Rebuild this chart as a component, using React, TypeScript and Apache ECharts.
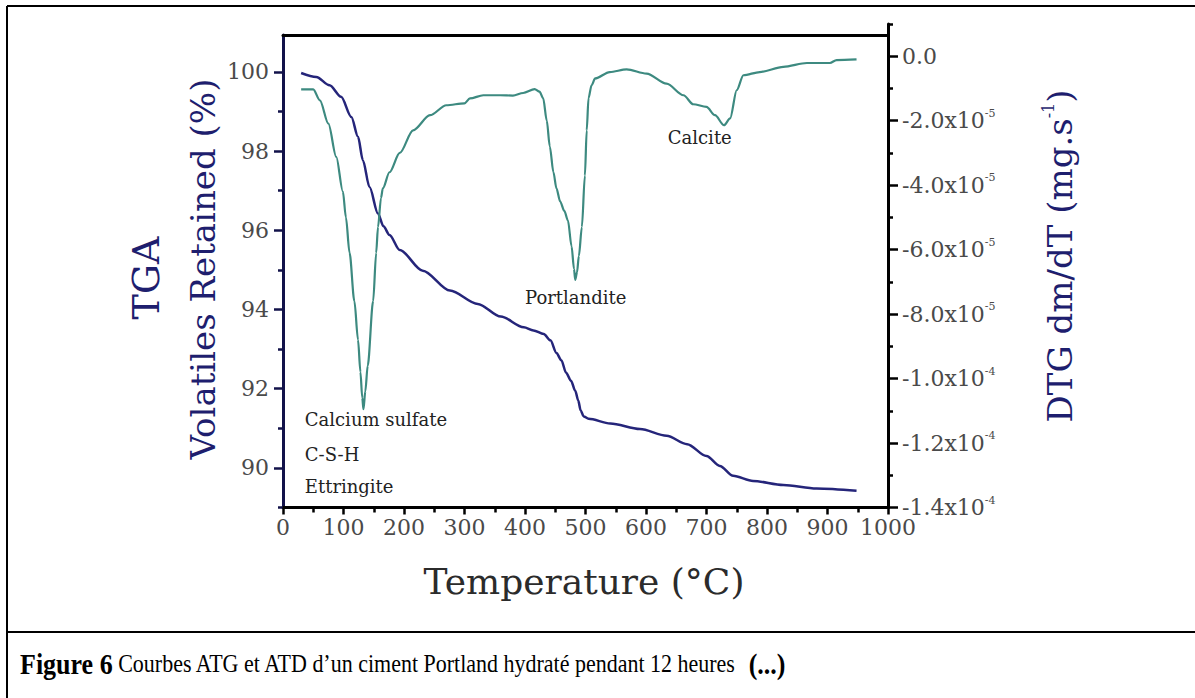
import React, { useEffect, useRef } from "react";
import * as echarts from "echarts";

// Temperature (°C) and TGA (% volatiles retained)
const tgaTemp = [30, 55, 77, 96, 113, 124, 132, 143, 157, 166, 176, 193, 231, 276, 322, 360, 398, 414, 431, 442, 452, 460, 468, 476, 483, 488, 492, 497, 505, 541, 590, 634, 668, 700, 722, 744, 777, 827, 882, 948];
const tgaValue = [99.97, 99.87, 99.66, 99.37, 98.86, 98.36, 97.77, 97.09, 96.42, 96.1, 95.88, 95.5, 94.98, 94.48, 94.14, 93.82, 93.55, 93.47, 93.38, 93.22, 92.9, 92.72, 92.4, 92.2, 91.95, 91.7, 91.45, 91.3, 91.24, 91.12, 90.98, 90.81, 90.6, 90.3, 90.05, 89.8, 89.67, 89.57, 89.48, 89.42];

// Temperature (°C) and DTG (in units of 1e-5 mg/s)
const dtgTemp = [30, 50, 61, 75, 88, 99, 104, 110, 118, 124, 128, 131, 133, 136, 140, 149, 154, 157, 162, 165, 176, 193, 215, 243, 270, 300, 309, 331, 359, 380, 397, 416, 424, 430, 436, 441, 447, 452, 458, 465, 471, 477, 481, 483, 486, 489, 494, 499, 502, 505, 510, 516, 540, 568, 601, 634, 662, 678, 700, 714, 729, 739, 750, 761, 788, 827, 866, 904, 915, 948];
const dtgValue = [-1.03, -1.03, -1.37, -2.09, -3.12, -4.2, -5.0, -6.1, -7.6, -8.8, -9.8, -10.6, -10.95, -10.4, -9.6, -7.6, -6.1, -5.3, -4.4, -4.1, -3.6, -3.0, -2.3, -1.83, -1.52, -1.46, -1.31, -1.21, -1.21, -1.22, -1.14, -1.02, -1.1, -1.3, -2.0, -2.8, -3.6, -4.1, -4.5, -4.8, -5.1, -5.9, -6.6, -6.94, -6.7, -6.2, -5.3, -3.7, -2.3, -1.3, -0.9, -0.69, -0.49, -0.41, -0.54, -0.85, -1.21, -1.49, -1.57, -1.83, -2.14, -1.93, -1.05, -0.59, -0.49, -0.33, -0.21, -0.21, -0.12, -0.1];
const DTG_UNIT = 1e-5;

const xTicks = [0, 100, 200, 300, 400, 500, 600, 700, 800, 900, 1000];
const tgaTicks = [90, 92, 94, 96, 98, 100];
const tgaMinorTicks = [89, 91, 93, 95, 97, 99];
const dtgTicks = [0, -2e-5, -4e-5, -6e-5, -8e-5, -1e-4, -1.2e-4, -1.4e-4];
const dtgMinorTicks = [1e-5, -1e-5, -3e-5, -5e-5, -7e-5, -9e-5, -1.1e-4, -1.3e-4];

// annotation labels anchored at (temperature, DTG in 1e-5 units)
const annotationText = ["Calcium sulfate", "C-S-H", "Ettringite", "Portlandite", "Calcite"];
const annotationTemp = [36, 36, 36, 400, 636];
const annotationDtg = [-11.27, -12.36, -13.35, -7.49, -2.51];

const SERIF = "'DejaVu Serif', serif";
const TIMES = "'Liberation Serif', 'Times New Roman', serif";
const NAVY = "#1e1e6e";
const TEAL = "#3d8a80";
const LABEL = "#4a4a4a";

function fmtDtg(v: number): string {
  if (Math.abs(v) < 1e-12) return "{n|0.0}";
  const exp = Math.abs(v) >= 1e-4 - 1e-12 ? -4 : -5;
  const m = v / Math.pow(10, exp);
  return `{n|${m.toFixed(1)}x10}{s|${exp}}`;
}

export default function App() {
  const ref = useRef<HTMLDivElement>(null);
  useEffect(() => {
    if (!ref.current) return;
    const chart = echarts.init(ref.current, undefined, { renderer: "svg" });
    const tgaData = tgaTemp.map((t, i) => [t, tgaValue[i]]);
    const dtgData = dtgTemp.map((t, i) => [t, dtgValue[i] * DTG_UNIT]);
    chart.setOption({
      animation: false,
      backgroundColor: "#ffffff",
      grid: [
        { left: 283, top: 35, width: 605, height: 472.5, containLabel: false },
        { left: 283, top: 24, width: 605, height: 483.5, containLabel: false },
      ],
      xAxis: [
        {
          type: "value", gridIndex: 0, position: "bottom", min: 0, max: 1000, interval: 100,
          axisLine: { onZero: false, lineStyle: { color: "#000", width: 3 } },
          axisTick: { show: true, length: 7, lineStyle: { color: "#000", width: 2.5 } },
          minorTick: { show: true, splitNumber: 2, length: 5, lineStyle: { color: "#000", width: 2.5 } },
          axisLabel: {
            customValues: xTicks, margin: 9, fontFamily: SERIF, fontSize: 22, color: LABEL,
            formatter: (v: number) => String(v),
          },
          splitLine: { show: false },
        },
        {
          type: "value", gridIndex: 0, position: "top", min: 0, max: 1000,
          axisLine: { onZero: false, lineStyle: { color: "#000", width: 3 } },
          axisTick: { show: false }, axisLabel: { show: false }, splitLine: { show: false },
        },
        { type: "value", gridIndex: 1, min: 0, max: 1000, show: false },
      ],
      yAxis: [
        {
          type: "value", gridIndex: 0, position: "left", min: 89, max: 100.93,
          axisLine: { onZero: false, lineStyle: { color: "#12124a", width: 3 } },
          axisTick: { customValues: tgaTicks, length: 9, lineStyle: { color: "#12124a", width: 2.5 } },
          axisLabel: { customValues: tgaTicks, margin: 14, fontFamily: SERIF, fontSize: 22, color: LABEL },
          splitLine: { show: false },
        },
        {
          type: "value", gridIndex: 0, position: "left", min: 89, max: 100.93,
          axisLine: { show: false, onZero: false },
          axisTick: { customValues: tgaMinorTicks, length: 5, lineStyle: { color: "#12124a", width: 2.5 } },
          axisLabel: { show: false }, splitLine: { show: false },
        },
        {
          type: "value", gridIndex: 1, position: "right", min: -1.4e-4, max: 1e-5,
          axisLine: { onZero: false, lineStyle: { color: "#000", width: 3 } },
          axisTick: { customValues: dtgTicks, length: 10, lineStyle: { color: "#000", width: 2.5 } },
          axisLabel: {
            customValues: dtgTicks, margin: 14, formatter: fmtDtg,
            rich: {
              n: { fontFamily: SERIF, fontSize: 22, color: LABEL, lineHeight: 26 },
              s: { fontFamily: SERIF, fontSize: 11, color: LABEL, lineHeight: 12, verticalAlign: "top" },
            },
          },
          splitLine: { show: false },
        },
        {
          type: "value", gridIndex: 1, position: "right", min: -1.4e-4, max: 1e-5,
          axisLine: { show: false, onZero: false },
          axisTick: { customValues: dtgMinorTicks, length: 5, lineStyle: { color: "#000", width: 2.5 } },
          axisLabel: { show: false }, splitLine: { show: false },
        },
      ],
      series: [
        {
          name: "TGA", type: "line", xAxisIndex: 0, yAxisIndex: 0, data: tgaData,
          showSymbol: false, smooth: 0.3, smoothMonotone: "x",
          lineStyle: { color: "#25257a", width: 2.5 },
        },
        {
          name: "DTG", type: "line", xAxisIndex: 2, yAxisIndex: 2, data: dtgData,
          showSymbol: false, smooth: 0.3, smoothMonotone: "x",
          lineStyle: { color: TEAL, width: 2.2 },
          markPoint: {
            symbol: "circle", symbolSize: 0, silent: true,
            data: annotationText.map((t, i) => ({ name: t, coord: [annotationTemp[i], annotationDtg[i] * DTG_UNIT] })),
            label: {
              show: true, position: "right", distance: 0, formatter: (p: any) => p.name,
              fontFamily: SERIF, fontSize: 18, color: "#222",
            },
          },
        },
      ],
      graphic: [
        { type: "line", shape: { x1: 7, y1: 6, x2: 1195, y2: 6 }, style: { stroke: "#000", lineWidth: 2 } },
        { type: "line", shape: { x1: 7, y1: 6, x2: 7, y2: 698 }, style: { stroke: "#000", lineWidth: 2 } },
        { type: "line", shape: { x1: 7, y1: 632, x2: 1195, y2: 632 }, style: { stroke: "#000", lineWidth: 2 } },
        {
          type: "text", x: 146, y: 278, rotation: Math.PI / 2,
          style: { text: "TGA", font: `38px ${SERIF}`, fill: NAVY, textAlign: "center", textVerticalAlign: "middle" },
        },
        {
          type: "text", x: 203, y: 269, rotation: Math.PI / 2,
          style: { text: "Volatiles Retained (%)", font: `34px ${SERIF}`, fill: NAVY, textAlign: "center", textVerticalAlign: "middle" },
        },
        {
          type: "text", x: 1060, y: 256, rotation: Math.PI / 2,
          style: {
            text: "{m|DTG dm/dT (mg.s}{s|-1}{m|)}",
            textAlign: "center", textVerticalAlign: "middle",
            rich: {
              m: { fontFamily: SERIF, fontSize: 34, fill: NAVY, lineHeight: 40 },
              s: { fontFamily: SERIF, fontSize: 16, fill: NAVY, lineHeight: 16, verticalAlign: "top" },
            },
          },
        },
        {
          type: "text", x: 584, y: 581,
          style: { text: "Temperature (°C)", font: `36px ${SERIF}`, fill: "#2b2b2b", textAlign: "center", textVerticalAlign: "middle" },
        },
        {
          type: "text", x: 20, y: 664, scaleY: 1.12,
          style: {
            text: "{b|Figure 6}{n| Courbes ATG et ATD d’un ciment Portland hydraté pendant 12 heures  }{b|(...)}",
            fontFamily: TIMES, fontSize: 22, fill: "#000",
            textVerticalAlign: "middle",
            rich: {
              b: { fontFamily: TIMES, fontSize: 26, fontWeight: "bold", fill: "#000" },
              n: { fontFamily: TIMES, fontSize: 22, fill: "#000" },
            },
          },
        },
      ],
    });
    return () => chart.dispose();
  }, []);
  return (
    <div
      ref={ref}
      style={{ position: "fixed", left: 0, top: 0, width: 1195, height: 698, background: "#fff" }}
    />
  );
}
